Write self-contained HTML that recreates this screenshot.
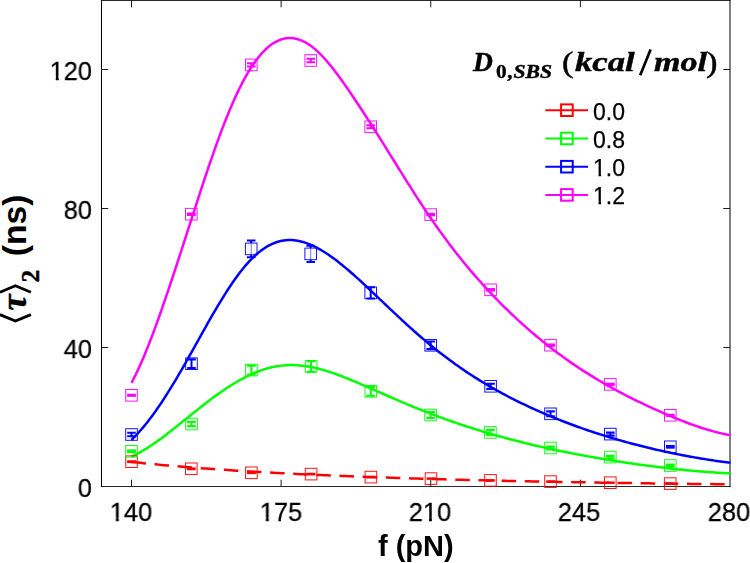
<!DOCTYPE html>
<html><head><meta charset="utf-8"><title>chart</title>
<style>
html,body{margin:0;padding:0;background:#fff;}
body{width:750px;height:563px;position:relative;overflow:hidden;font-family:"Liberation Sans",sans-serif;color:#000;}
.t{position:absolute;white-space:nowrap;line-height:1;will-change:transform;}
.o{display:inline-block;clip-path:polygon(0 0,100% 0,100% 70%,63% 70%,63% 100%,43% 100%,43% 70%,0 70%);}
</style></head><body>
<svg width="750" height="563" viewBox="0 0 750 563" style="position:absolute;left:0;top:0">
<rect x="0" y="0" width="750" height="563" fill="#ffffff"/>
<g stroke="#1a1a1a" stroke-width="1" fill="none">
<path d="M101 0.5 H730.5 M101 486.5 H730.5" stroke="#2a2a2a"/>
<path d="M101.5 0 V487" stroke="#000"/>
<path d="M730 0 V487" stroke="#000"/>
<path d="M131.50 486.5 v-6.8 M131.50 0.5 v6.8"/>
<path d="M281.12 486.5 v-6.8 M281.12 0.5 v6.8"/>
<path d="M430.75 486.5 v-6.8 M430.75 0.5 v6.8"/>
<path d="M580.38 486.5 v-6.8 M580.38 0.5 v6.8"/>
<path d="M101.5 347.50 h6.7 M730 347.50 h-6.7"/>
<path d="M101.5 208.50 h6.7 M730 208.50 h-6.7"/>
<path d="M101.5 69.50 h6.7 M730 69.50 h-6.7"/>
</g>
<defs><clipPath id="cp"><rect x="101" y="0" width="630" height="487"/></clipPath></defs>
<g fill="none" stroke-width="2.5" stroke-linejoin="round" clip-path="url(#cp)">
<path stroke="#ff0000" stroke-dasharray="14.5 8.67" d="M131.50 461.89 L134.51 462.22 L137.52 462.53 L140.53 462.85 L143.54 463.15 L146.55 463.46 L149.56 463.76 L152.57 464.05 L155.58 464.34 L158.59 464.62 L161.60 464.90 L164.61 465.17 L167.62 465.45 L170.63 465.71 L173.64 465.97 L176.65 466.23 L179.66 466.49 L182.67 466.74 L185.68 466.98 L188.69 467.23 L191.70 467.47 L194.71 467.70 L197.72 467.93 L200.73 468.16 L203.74 468.39 L206.75 468.61 L209.76 468.83 L212.77 469.04 L215.78 469.25 L218.79 469.46 L221.80 469.67 L224.81 469.87 L227.82 470.07 L230.83 470.27 L233.84 470.46 L236.85 470.66 L239.86 470.85 L242.87 471.03 L245.88 471.22 L248.89 471.40 L251.90 471.58 L254.91 471.75 L257.92 471.93 L260.93 472.10 L263.94 472.27 L266.95 472.43 L269.96 472.60 L272.97 472.76 L275.98 472.92 L278.99 473.08 L282.00 473.23 L285.01 473.39 L288.02 473.54 L291.03 473.69 L294.04 473.84 L297.05 473.98 L300.06 474.13 L303.07 474.27 L306.08 474.41 L309.09 474.55 L312.10 474.69 L315.11 474.82 L318.12 474.96 L321.13 475.09 L324.14 475.22 L327.15 475.35 L330.16 475.47 L333.17 475.60 L336.18 475.72 L339.19 475.84 L342.20 475.97 L345.21 476.09 L348.22 476.20 L351.23 476.32 L354.24 476.43 L357.25 476.55 L360.26 476.66 L363.27 476.77 L366.28 476.88 L369.29 476.99 L372.30 477.10 L375.31 477.20 L378.32 477.31 L381.33 477.41 L384.34 477.51 L387.35 477.62 L390.36 477.72 L393.37 477.81 L396.38 477.91 L399.39 478.01 L402.40 478.10 L405.41 478.20 L408.42 478.29 L411.43 478.39 L414.44 478.48 L417.45 478.57 L420.46 478.66 L423.47 478.75 L426.48 478.83 L429.49 478.92 L432.51 479.00 L435.52 479.09 L438.53 479.17 L441.54 479.26 L444.55 479.34 L447.56 479.42 L450.57 479.50 L453.58 479.58 L456.59 479.66 L459.60 479.74 L462.61 479.81 L465.62 479.89 L468.63 479.96 L471.64 480.04 L474.65 480.11 L477.66 480.19 L480.67 480.26 L483.68 480.33 L486.69 480.40 L489.70 480.47 L492.71 480.54 L495.72 480.61 L498.73 480.68 L501.74 480.74 L504.75 480.81 L507.76 480.88 L510.77 480.94 L513.78 481.01 L516.79 481.07 L519.80 481.13 L522.81 481.20 L525.82 481.26 L528.83 481.32 L531.84 481.38 L534.85 481.44 L537.86 481.50 L540.87 481.56 L543.88 481.62 L546.89 481.68 L549.90 481.73 L552.91 481.79 L555.92 481.85 L558.93 481.90 L561.94 481.96 L564.95 482.01 L567.96 482.07 L570.97 482.12 L573.98 482.17 L576.99 482.23 L580.00 482.28 L583.01 482.33 L586.02 482.38 L589.03 482.43 L592.04 482.48 L595.05 482.53 L598.06 482.58 L601.07 482.63 L604.08 482.68 L607.09 482.72 L610.10 482.77 L613.11 482.82 L616.12 482.86 L619.13 482.91 L622.14 482.95 L625.15 483.00 L628.16 483.04 L631.17 483.09 L634.18 483.13 L637.19 483.17 L640.20 483.22 L643.21 483.26 L646.22 483.30 L649.23 483.34 L652.24 483.38 L655.25 483.42 L658.26 483.46 L661.27 483.50 L664.28 483.54 L667.29 483.58 L670.30 483.62 L673.31 483.66 L676.32 483.70 L679.33 483.74 L682.34 483.77 L685.35 483.81 L688.36 483.85 L691.37 483.88 L694.38 483.92 L697.39 483.95 L700.40 483.99 L703.41 484.02 L706.42 484.06 L709.43 484.09 L712.44 484.12 L715.45 484.16 L718.46 484.19 L721.47 484.22 L724.48 484.26 L727.49 484.29 L730.50 484.32"/>
<path stroke="#00ff00" d="M131.50 456.65 L133.50 455.70 L135.51 454.71 L137.51 453.67 L139.51 452.59 L141.52 451.46 L143.52 450.29 L145.52 449.08 L147.53 447.83 L149.53 446.55 L151.53 445.23 L153.54 443.87 L155.54 442.48 L157.54 441.07 L159.55 439.62 L161.55 438.15 L163.55 436.65 L165.56 435.13 L167.56 433.59 L169.56 432.03 L171.57 430.46 L173.57 428.88 L175.57 427.28 L177.58 425.67 L179.58 424.07 L181.58 422.45 L183.59 420.84 L185.59 419.23 L187.59 417.62 L189.60 416.00 L191.60 414.40 L193.60 412.79 L195.61 411.20 L197.61 409.61 L199.61 408.02 L201.62 406.45 L203.62 404.89 L205.62 403.34 L207.63 401.80 L209.63 400.28 L211.63 398.78 L213.64 397.29 L215.64 395.83 L217.64 394.38 L219.65 392.96 L221.65 391.56 L223.65 390.18 L225.66 388.83 L227.66 387.51 L229.66 386.22 L231.67 384.95 L233.67 383.72 L235.67 382.51 L237.68 381.34 L239.68 380.20 L241.68 379.10 L243.69 378.03 L245.69 376.99 L247.69 376.00 L249.70 375.04 L251.70 374.12 L253.70 373.24 L255.71 372.41 L257.71 371.61 L259.71 370.86 L261.72 370.16 L263.72 369.50 L265.72 368.89 L267.73 368.32 L269.73 367.79 L271.73 367.32 L273.74 366.89 L275.74 366.50 L277.74 366.17 L279.75 365.88 L281.75 365.63 L283.75 365.43 L285.76 365.28 L287.76 365.17 L289.76 365.11 L291.77 365.09 L293.77 365.11 L295.77 365.18 L297.78 365.29 L299.78 365.44 L301.78 365.64 L303.79 365.87 L305.79 366.15 L307.79 366.46 L309.80 366.81 L311.80 367.19 L313.80 367.61 L315.81 368.06 L317.81 368.54 L319.81 369.05 L321.82 369.59 L323.82 370.16 L325.82 370.75 L327.83 371.37 L329.83 372.01 L331.83 372.68 L333.84 373.36 L335.84 374.07 L337.84 374.79 L339.85 375.53 L341.85 376.29 L343.85 377.07 L345.86 377.85 L347.86 378.66 L349.86 379.47 L351.87 380.29 L353.87 381.13 L355.87 381.97 L357.88 382.82 L359.88 383.68 L361.88 384.54 L363.89 385.41 L365.89 386.29 L367.89 387.17 L369.90 388.05 L371.90 388.93 L373.90 389.82 L375.91 390.70 L377.91 391.59 L379.91 392.47 L381.92 393.36 L383.92 394.24 L385.92 395.12 L387.93 396.00 L389.93 396.87 L391.93 397.74 L393.94 398.61 L395.94 399.47 L397.94 400.33 L399.95 401.19 L401.95 402.04 L403.95 402.88 L405.96 403.72 L407.96 404.56 L409.96 405.39 L411.97 406.22 L413.97 407.04 L415.97 407.85 L417.98 408.66 L419.98 409.46 L421.98 410.26 L423.99 411.05 L425.99 411.84 L427.99 412.62 L430.00 413.39 L432.00 414.15 L434.01 414.91 L436.01 415.67 L438.01 416.41 L440.02 417.16 L442.02 417.89 L444.02 418.62 L446.03 419.34 L448.03 420.06 L450.03 420.76 L452.04 421.47 L454.04 422.16 L456.04 422.85 L458.05 423.54 L460.05 424.22 L462.05 424.89 L464.06 425.56 L466.06 426.22 L468.06 426.87 L470.07 427.52 L472.07 428.16 L474.07 428.80 L476.08 429.43 L478.08 430.05 L480.08 430.67 L482.09 431.28 L484.09 431.89 L486.09 432.49 L488.10 433.08 L490.10 433.67 L492.10 434.25 L494.11 434.83 L496.11 435.40 L498.11 435.97 L500.12 436.53 L502.12 437.08 L504.12 437.63 L506.13 438.18 L508.13 438.71 L510.13 439.25 L512.14 439.77 L514.14 440.30 L516.14 440.81 L518.15 441.33 L520.15 441.83 L522.15 442.33 L524.16 442.83 L526.16 443.32 L528.16 443.81 L530.17 444.29 L532.17 444.77 L534.17 445.24 L536.18 445.71 L538.18 446.17 L540.18 446.63 L542.19 447.08 L544.19 447.53 L546.19 447.97 L548.20 448.41 L550.20 448.85 L552.20 449.28 L554.21 449.71 L556.21 450.13 L558.21 450.55 L560.22 450.96 L562.22 451.38 L564.22 451.78 L566.23 452.19 L568.23 452.58 L570.23 452.98 L572.24 453.37 L574.24 453.76 L576.24 454.14 L578.25 454.52 L580.25 454.90 L582.25 455.27 L584.26 455.64 L586.26 456.01 L588.26 456.37 L590.27 456.73 L592.27 457.09 L594.27 457.45 L596.28 457.80 L598.28 458.14 L600.28 458.49 L602.29 458.83 L604.29 459.17 L606.29 459.50 L608.30 459.84 L610.30 460.17 L612.30 460.49 L614.31 460.81 L616.31 461.13 L618.31 461.45 L620.32 461.77 L622.32 462.08 L624.32 462.38 L626.33 462.69 L628.33 462.99 L630.33 463.29 L632.34 463.58 L634.34 463.87 L636.34 464.16 L638.35 464.44 L640.35 464.72 L642.35 465.00 L644.36 465.28 L646.36 465.55 L648.36 465.81 L650.37 466.08 L652.37 466.34 L654.37 466.59 L656.38 466.85 L658.38 467.10 L660.38 467.34 L662.39 467.59 L664.39 467.82 L666.39 468.06 L668.40 468.29 L670.40 468.52 L672.40 468.74 L674.41 468.96 L676.41 469.18 L678.41 469.39 L680.42 469.60 L682.42 469.80 L684.42 470.00 L686.43 470.20 L688.43 470.39 L690.43 470.58 L692.44 470.76 L694.44 470.94 L696.44 471.12 L698.45 471.29 L700.45 471.46 L702.45 471.62 L704.46 471.78 L706.46 471.93 L708.46 472.08 L710.47 472.23 L712.47 472.37 L714.47 472.50 L716.48 472.64 L718.48 472.76 L720.48 472.89 L722.49 473.01 L724.49 473.12 L726.49 473.23 L728.50 473.33 L730.50 473.43"/>
<path stroke="#0000ff" d="M131.50 440.00 L133.50 437.99 L135.51 435.92 L137.51 433.77 L139.51 431.54 L141.52 429.25 L143.52 426.88 L145.52 424.44 L147.53 421.92 L149.53 419.34 L151.53 416.69 L153.54 413.97 L155.54 411.18 L157.54 408.33 L159.55 405.41 L161.55 402.43 L163.55 399.39 L165.56 396.29 L167.56 393.13 L169.56 389.93 L171.57 386.67 L173.57 383.37 L175.57 380.02 L177.58 376.63 L179.58 373.21 L181.58 369.76 L183.59 366.27 L185.59 362.76 L187.59 359.23 L189.60 355.68 L191.60 352.11 L193.60 348.53 L195.61 344.94 L197.61 341.35 L199.61 337.76 L201.62 334.17 L203.62 330.59 L205.62 327.03 L207.63 323.48 L209.63 319.95 L211.63 316.45 L213.64 312.99 L215.64 309.55 L217.64 306.16 L219.65 302.82 L221.65 299.53 L223.65 296.29 L225.66 293.11 L227.66 289.99 L229.66 286.94 L231.67 283.96 L233.67 281.05 L235.67 278.22 L237.68 275.48 L239.68 272.82 L241.68 270.25 L243.69 267.78 L245.69 265.40 L247.69 263.12 L249.70 260.95 L251.70 258.87 L253.70 256.90 L255.71 255.04 L257.71 253.29 L259.71 251.65 L261.72 250.11 L263.72 248.69 L265.72 247.38 L267.73 246.18 L269.73 245.09 L271.73 244.11 L273.74 243.23 L275.74 242.47 L277.74 241.81 L279.75 241.26 L281.75 240.82 L283.75 240.48 L285.76 240.23 L287.76 240.09 L289.76 240.04 L291.77 240.09 L293.77 240.23 L295.77 240.46 L297.78 240.78 L299.78 241.18 L301.78 241.67 L303.79 242.24 L305.79 242.88 L307.79 243.60 L309.80 244.39 L311.80 245.25 L313.80 246.18 L315.81 247.17 L317.81 248.22 L319.81 249.33 L321.82 250.50 L323.82 251.73 L325.82 253.00 L327.83 254.33 L329.83 255.70 L331.83 257.11 L333.84 258.57 L335.84 260.07 L337.84 261.60 L339.85 263.18 L341.85 264.78 L343.85 266.42 L345.86 268.09 L347.86 269.78 L349.86 271.51 L351.87 273.25 L353.87 275.02 L355.87 276.81 L357.88 278.62 L359.88 280.45 L361.88 282.29 L363.89 284.15 L365.89 286.01 L367.89 287.89 L369.90 289.77 L371.90 291.67 L373.90 293.57 L375.91 295.47 L377.91 297.37 L379.91 299.28 L381.92 301.19 L383.92 303.10 L385.92 305.00 L387.93 306.90 L389.93 308.80 L391.93 310.70 L393.94 312.58 L395.94 314.46 L397.94 316.34 L399.95 318.20 L401.95 320.06 L403.95 321.90 L405.96 323.74 L407.96 325.56 L409.96 327.37 L411.97 329.17 L413.97 330.96 L415.97 332.73 L417.98 334.49 L419.98 336.23 L421.98 337.96 L423.99 339.67 L425.99 341.36 L427.99 343.04 L430.00 344.70 L432.00 346.34 L434.01 347.97 L436.01 349.57 L438.01 351.16 L440.02 352.74 L442.02 354.29 L444.02 355.83 L446.03 357.34 L448.03 358.85 L450.03 360.33 L452.04 361.80 L454.04 363.25 L456.04 364.68 L458.05 366.10 L460.05 367.49 L462.05 368.88 L464.06 370.24 L466.06 371.59 L468.06 372.92 L470.07 374.24 L472.07 375.54 L474.07 376.83 L476.08 378.10 L478.08 379.35 L480.08 380.59 L482.09 381.82 L484.09 383.03 L486.09 384.23 L488.10 385.41 L490.10 386.57 L492.10 387.73 L494.11 388.87 L496.11 390.00 L498.11 391.11 L500.12 392.21 L502.12 393.30 L504.12 394.37 L506.13 395.44 L508.13 396.49 L510.13 397.53 L512.14 398.56 L514.14 399.57 L516.14 400.58 L518.15 401.57 L520.15 402.56 L522.15 403.53 L524.16 404.49 L526.16 405.45 L528.16 406.39 L530.17 407.33 L532.17 408.25 L534.17 409.16 L536.18 410.07 L538.18 410.96 L540.18 411.85 L542.19 412.72 L544.19 413.59 L546.19 414.44 L548.20 415.29 L550.20 416.13 L552.20 416.96 L554.21 417.78 L556.21 418.59 L558.21 419.39 L560.22 420.19 L562.22 420.98 L564.22 421.75 L566.23 422.52 L568.23 423.28 L570.23 424.03 L572.24 424.78 L574.24 425.52 L576.24 426.24 L578.25 426.96 L580.25 427.68 L582.25 428.38 L584.26 429.08 L586.26 429.77 L588.26 430.45 L590.27 431.13 L592.27 431.79 L594.27 432.45 L596.28 433.11 L598.28 433.75 L600.28 434.39 L602.29 435.03 L604.29 435.65 L606.29 436.27 L608.30 436.88 L610.30 437.48 L612.30 438.08 L614.31 438.67 L616.31 439.26 L618.31 439.84 L620.32 440.41 L622.32 440.98 L624.32 441.54 L626.33 442.09 L628.33 442.64 L630.33 443.18 L632.34 443.71 L634.34 444.24 L636.34 444.76 L638.35 445.28 L640.35 445.79 L642.35 446.30 L644.36 446.79 L646.36 447.29 L648.36 447.77 L650.37 448.25 L652.37 448.73 L654.37 449.20 L656.38 449.66 L658.38 450.12 L660.38 450.57 L662.39 451.01 L664.39 451.45 L666.39 451.89 L668.40 452.32 L670.40 452.74 L672.40 453.16 L674.41 453.57 L676.41 453.97 L678.41 454.37 L680.42 454.77 L682.42 455.16 L684.42 455.54 L686.43 455.92 L688.43 456.29 L690.43 456.66 L692.44 457.02 L694.44 457.37 L696.44 457.72 L698.45 458.07 L700.45 458.40 L702.45 458.74 L704.46 459.07 L706.46 459.39 L708.46 459.70 L710.47 460.01 L712.47 460.32 L714.47 460.62 L716.48 460.91 L718.48 461.20 L720.48 461.49 L722.49 461.76 L724.49 462.04 L726.49 462.30 L728.50 462.56 L730.50 462.82"/>
<path stroke="#ff00ff" d="M131.50 382.80 L133.50 378.99 L135.51 375.01 L137.51 370.85 L139.51 366.52 L141.52 362.03 L143.52 357.39 L145.52 352.59 L147.53 347.65 L149.53 342.58 L151.53 337.38 L153.54 332.07 L155.54 326.64 L157.54 321.11 L159.55 315.50 L161.55 309.79 L163.55 304.02 L165.56 298.18 L167.56 292.29 L169.56 286.34 L171.57 280.35 L173.57 274.31 L175.57 268.24 L177.58 262.12 L179.58 255.98 L181.58 249.81 L183.59 243.62 L185.59 237.41 L187.59 231.19 L189.60 224.97 L191.60 218.75 L193.60 212.54 L195.61 206.35 L197.61 200.17 L199.61 194.02 L201.62 187.91 L203.62 181.84 L205.62 175.82 L207.63 169.86 L209.63 163.96 L211.63 158.13 L213.64 152.38 L215.64 146.72 L217.64 141.16 L219.65 135.69 L221.65 130.34 L223.65 125.10 L225.66 119.98 L227.66 114.98 L229.66 110.12 L231.67 105.40 L233.67 100.82 L235.67 96.38 L237.68 92.10 L239.68 87.98 L241.68 84.01 L243.69 80.20 L245.69 76.56 L247.69 73.08 L249.70 69.76 L251.70 66.62 L253.70 63.64 L255.71 60.83 L257.71 58.18 L259.71 55.71 L261.72 53.40 L263.72 51.25 L265.72 49.27 L267.73 47.46 L269.73 45.80 L271.73 44.31 L273.74 42.98 L275.74 41.81 L277.74 40.80 L279.75 39.95 L281.75 39.26 L283.75 38.72 L285.76 38.34 L287.76 38.12 L289.76 38.04 L291.77 38.11 L293.77 38.32 L295.77 38.68 L297.78 39.19 L299.78 39.83 L301.78 40.62 L303.79 41.54 L305.79 42.59 L307.79 43.78 L309.80 45.10 L311.80 46.55 L313.80 48.12 L315.81 49.82 L317.81 51.63 L319.81 53.57 L321.82 55.61 L323.82 57.75 L325.82 59.99 L327.83 62.31 L329.83 64.72 L331.83 67.20 L333.84 69.76 L335.84 72.38 L337.84 75.05 L339.85 77.78 L341.85 80.56 L343.85 83.38 L345.86 86.23 L347.86 89.12 L349.86 92.03 L351.87 94.97 L353.87 97.94 L355.87 100.94 L357.88 103.95 L359.88 106.99 L361.88 110.05 L363.89 113.12 L365.89 116.21 L367.89 119.32 L369.90 122.44 L371.90 125.58 L373.90 128.73 L375.91 131.89 L377.91 135.07 L379.91 138.25 L381.92 141.45 L383.92 144.65 L385.92 147.86 L387.93 151.08 L389.93 154.31 L391.93 157.54 L393.94 160.77 L395.94 164.00 L397.94 167.23 L399.95 170.45 L401.95 173.66 L403.95 176.87 L405.96 180.07 L407.96 183.25 L409.96 186.42 L411.97 189.58 L413.97 192.72 L415.97 195.84 L417.98 198.94 L419.98 202.02 L421.98 205.08 L423.99 208.11 L425.99 211.11 L427.99 214.09 L430.00 217.04 L432.00 219.97 L434.01 222.86 L436.01 225.72 L438.01 228.55 L440.02 231.36 L442.02 234.13 L444.02 236.88 L446.03 239.59 L448.03 242.28 L450.03 244.94 L452.04 247.57 L454.04 250.17 L456.04 252.74 L458.05 255.28 L460.05 257.80 L462.05 260.29 L464.06 262.75 L466.06 265.18 L468.06 267.59 L470.07 269.97 L472.07 272.33 L474.07 274.66 L476.08 276.96 L478.08 279.24 L480.08 281.50 L482.09 283.73 L484.09 285.94 L486.09 288.12 L488.10 290.28 L490.10 292.42 L492.10 294.53 L494.11 296.62 L496.11 298.70 L498.11 300.75 L500.12 302.78 L502.12 304.79 L504.12 306.78 L506.13 308.75 L508.13 310.70 L510.13 312.63 L512.14 314.54 L514.14 316.43 L516.14 318.30 L518.15 320.16 L520.15 321.99 L522.15 323.81 L524.16 325.60 L526.16 327.38 L528.16 329.14 L530.17 330.88 L532.17 332.60 L534.17 334.30 L536.18 335.99 L538.18 337.66 L540.18 339.31 L542.19 340.94 L544.19 342.56 L546.19 344.15 L548.20 345.73 L550.20 347.30 L552.20 348.84 L554.21 350.37 L556.21 351.88 L558.21 353.38 L560.22 354.86 L562.22 356.32 L564.22 357.77 L566.23 359.20 L568.23 360.62 L570.23 362.01 L572.24 363.40 L574.24 364.77 L576.24 366.12 L578.25 367.46 L580.25 368.78 L582.25 370.09 L584.26 371.38 L586.26 372.66 L588.26 373.92 L590.27 375.17 L592.27 376.41 L594.27 377.63 L596.28 378.84 L598.28 380.04 L600.28 381.22 L602.29 382.39 L604.29 383.55 L606.29 384.69 L608.30 385.83 L610.30 386.95 L612.30 388.06 L614.31 389.16 L616.31 390.25 L618.31 391.32 L620.32 392.39 L622.32 393.44 L624.32 394.49 L626.33 395.52 L628.33 396.54 L630.33 397.56 L632.34 398.56 L634.34 399.56 L636.34 400.54 L638.35 401.52 L640.35 402.49 L642.35 403.45 L644.36 404.40 L646.36 405.34 L648.36 406.28 L650.37 407.20 L652.37 408.12 L654.37 409.03 L656.38 409.94 L658.38 410.83 L660.38 411.72 L662.39 412.61 L664.39 413.48 L666.39 414.35 L668.40 415.21 L670.40 416.06 L672.40 416.90 L674.41 417.74 L676.41 418.56 L678.41 419.37 L680.42 420.17 L682.42 420.96 L684.42 421.74 L686.43 422.50 L688.43 423.25 L690.43 423.99 L692.44 424.72 L694.44 425.43 L696.44 426.12 L698.45 426.80 L700.45 427.47 L702.45 428.12 L704.46 428.75 L706.46 429.36 L708.46 429.96 L710.47 430.54 L712.47 431.10 L714.47 431.64 L716.48 432.16 L718.48 432.67 L720.48 433.15 L722.49 433.61 L724.49 434.05 L726.49 434.47 L728.50 434.86 L730.50 435.24"/>
</g>
<g stroke="#ff0000" fill="none">
<rect x="125.70" y="455.90" width="11.6" height="11.6" stroke-width="1" stroke-opacity="0.92"/>
<path stroke-width="2.90" d="M127.10 461.70 h8.8"/>
<rect x="185.50" y="463.00" width="11.6" height="11.6" stroke-width="1" stroke-opacity="0.92"/>
<path stroke-width="2.90" d="M186.90 468.80 h8.8"/>
<rect x="245.60" y="467.00" width="11.6" height="11.6" stroke-width="1" stroke-opacity="0.92"/>
<path stroke-width="2.70" d="M247.00 472.80 h8.8"/>
<rect x="305.30" y="468.30" width="11.6" height="11.6" stroke-width="1" stroke-opacity="0.92"/>
<path stroke-width="2.70" d="M306.70 474.10 h8.8"/>
<rect x="365.10" y="471.30" width="11.6" height="11.6" stroke-width="1" stroke-opacity="0.92"/>
<path stroke-width="2.50" d="M366.50 477.10 h8.8"/>
<rect x="425.20" y="472.80" width="11.6" height="11.6" stroke-width="1" stroke-opacity="0.92"/>
<path stroke-width="2.50" d="M426.60 478.60 h8.8"/>
<rect x="484.70" y="474.60" width="11.6" height="11.6" stroke-width="1" stroke-opacity="0.92"/>
<path stroke-width="2.50" d="M486.10 480.40 h8.8"/>
<rect x="544.70" y="475.80" width="11.6" height="11.6" stroke-width="1" stroke-opacity="0.92"/>
<path stroke-width="2.50" d="M546.10 481.60 h8.8"/>
<rect x="604.50" y="476.90" width="11.6" height="11.6" stroke-width="1" stroke-opacity="0.92"/>
<path stroke-width="2.50" d="M605.90 482.70 h8.8"/>
<rect x="664.40" y="477.80" width="11.6" height="11.6" stroke-width="1" stroke-opacity="0.92"/>
<path stroke-width="2.50" d="M665.80 483.60 h8.8"/>
</g>
<g stroke="#00ff00" fill="none">
<rect x="125.70" y="445.50" width="11.6" height="11.6" stroke-width="1" stroke-opacity="0.92"/>
<path stroke-width="3.90" d="M127.10 451.30 h8.8"/>
<rect x="185.70" y="418.20" width="11.6" height="11.6" stroke-width="1" stroke-opacity="0.92"/>
<path stroke-width="2" d="M191.50 421.90 V426.10"/>
<path stroke-width="2.1" d="M187.20 421.90 h8.6 M187.20 426.10 h8.6"/>
<rect x="245.60" y="364.30" width="11.6" height="11.6" stroke-width="1" stroke-opacity="0.92"/>
<path stroke-width="2" d="M251.40 365.70 V374.50"/>
<path stroke-width="2.1" d="M247.10 365.70 h8.6 M247.10 374.50 h8.6"/>
<rect x="305.30" y="360.60" width="11.6" height="11.6" stroke-width="1" stroke-opacity="0.92"/>
<path stroke-width="2" d="M311.10 361.10 V371.70"/>
<path stroke-width="2.1" d="M306.80 361.10 h8.6 M306.80 371.70 h8.6"/>
<rect x="365.00" y="385.50" width="11.6" height="11.6" stroke-width="1" stroke-opacity="0.92"/>
<path stroke-width="2" d="M370.80 386.90 V395.70"/>
<path stroke-width="2.1" d="M366.50 386.90 h8.6 M366.50 395.70 h8.6"/>
<rect x="424.80" y="409.20" width="11.6" height="11.6" stroke-width="1" stroke-opacity="0.92"/>
<path stroke-width="2" d="M430.60 412.00 V418.00"/>
<path stroke-width="2.1" d="M426.30 412.00 h8.6 M426.30 418.00 h8.6"/>
<rect x="484.60" y="426.60" width="11.6" height="11.6" stroke-width="1" stroke-opacity="0.92"/>
<path stroke-width="2" d="M490.40 429.90 V434.90"/>
<path stroke-width="2.1" d="M486.10 429.90 h8.6 M486.10 434.90 h8.6"/>
<rect x="544.70" y="442.20" width="11.6" height="11.6" stroke-width="1" stroke-opacity="0.92"/>
<path stroke-width="2" d="M550.50 446.60 V449.40"/>
<path stroke-width="2.1" d="M546.20 446.60 h8.6 M546.20 449.40 h8.6"/>
<rect x="604.50" y="451.30" width="11.6" height="11.6" stroke-width="1" stroke-opacity="0.92"/>
<path stroke-width="2" d="M610.30 455.90 V458.30"/>
<path stroke-width="2.1" d="M606.00 455.90 h8.6 M606.00 458.30 h8.6"/>
<rect x="664.50" y="459.70" width="11.6" height="11.6" stroke-width="1" stroke-opacity="0.92"/>
<path stroke-width="3.90" d="M665.90 465.50 h8.8"/>
</g>
<g stroke="#0000ff" fill="none">
<rect x="125.70" y="428.70" width="11.6" height="11.6" stroke-width="1" stroke-opacity="0.92"/>
<path stroke-width="2" d="M131.50 432.70 V436.30"/>
<path stroke-width="2.1" d="M127.20 432.70 h8.6 M127.20 436.30 h8.6"/>
<rect x="185.70" y="357.90" width="11.6" height="11.6" stroke-width="1" stroke-opacity="0.92"/>
<path stroke-width="2" d="M191.50 359.40 V368.00"/>
<path stroke-width="2.1" d="M187.20 359.40 h8.6 M187.20 368.00 h8.6"/>
<rect x="245.40" y="243.10" width="11.6" height="11.6" stroke-width="1" stroke-opacity="0.92"/>
<path stroke-width="2" d="M251.20 240.50 V243.10 M251.20 254.70 V257.30"/>
<path stroke-width="1" stroke-opacity="0.55" d="M251.20 243.10 V254.70"/>
<path stroke-width="2.1" d="M246.90 240.50 h8.6 M246.90 257.30 h8.6"/>
<rect x="304.90" y="248.10" width="11.6" height="11.6" stroke-width="1" stroke-opacity="0.92"/>
<path stroke-width="2" d="M310.70 245.80 V248.10 M310.70 259.70 V262.00"/>
<path stroke-width="1" stroke-opacity="0.55" d="M310.70 248.10 V259.70"/>
<path stroke-width="2.1" d="M306.40 245.80 h8.6 M306.40 262.00 h8.6"/>
<rect x="364.90" y="287.10" width="11.6" height="11.6" stroke-width="1" stroke-opacity="0.92"/>
<path stroke-width="2" d="M370.70 287.30 V298.50"/>
<path stroke-width="2.1" d="M366.40 287.30 h8.6 M366.40 298.50 h8.6"/>
<rect x="424.90" y="339.50" width="11.6" height="11.6" stroke-width="1" stroke-opacity="0.92"/>
<path stroke-width="2" d="M430.70 341.50 V349.10"/>
<path stroke-width="2.1" d="M426.40 341.50 h8.6 M426.40 349.10 h8.6"/>
<rect x="484.80" y="380.50" width="11.6" height="11.6" stroke-width="1" stroke-opacity="0.92"/>
<path stroke-width="2" d="M490.60 383.70 V388.90"/>
<path stroke-width="2.1" d="M486.30 383.70 h8.6 M486.30 388.90 h8.6"/>
<rect x="544.70" y="408.00" width="11.6" height="11.6" stroke-width="1" stroke-opacity="0.92"/>
<path stroke-width="2" d="M550.50 411.40 V416.20"/>
<path stroke-width="2.1" d="M546.20 411.40 h8.6 M546.20 416.20 h8.6"/>
<rect x="604.50" y="428.30" width="11.6" height="11.6" stroke-width="1" stroke-opacity="0.92"/>
<path stroke-width="2" d="M610.30 432.60 V435.60"/>
<path stroke-width="2.1" d="M606.00 432.60 h8.6 M606.00 435.60 h8.6"/>
<rect x="664.50" y="441.00" width="11.6" height="11.6" stroke-width="1" stroke-opacity="0.92"/>
<path stroke-width="3.70" d="M665.90 446.80 h8.8"/>
</g>
<g stroke="#ff00ff" fill="none">
<rect x="125.70" y="389.50" width="11.6" height="11.6" stroke-width="1" stroke-opacity="0.92"/>
<path stroke-width="3.10" d="M127.10 395.30 h8.8"/>
<rect x="185.50" y="208.40" width="11.6" height="11.6" stroke-width="1" stroke-opacity="0.92"/>
<path stroke-width="3.50" d="M186.90 214.20 h8.8"/>
<rect x="245.50" y="59.10" width="11.6" height="11.6" stroke-width="1" stroke-opacity="0.92"/>
<path stroke-width="2" d="M251.30 63.30 V66.50"/>
<path stroke-width="2.1" d="M247.00 63.30 h8.6 M247.00 66.50 h8.6"/>
<rect x="305.00" y="54.70" width="11.6" height="11.6" stroke-width="1" stroke-opacity="0.92"/>
<path stroke-width="2" d="M310.80 58.80 V62.20"/>
<path stroke-width="2.1" d="M306.50 58.80 h8.6 M306.50 62.20 h8.6"/>
<rect x="364.90" y="121.00" width="11.6" height="11.6" stroke-width="1" stroke-opacity="0.92"/>
<path stroke-width="2" d="M370.70 125.30 V128.30"/>
<path stroke-width="2.1" d="M366.40 125.30 h8.6 M366.40 128.30 h8.6"/>
<rect x="424.90" y="208.80" width="11.6" height="11.6" stroke-width="1" stroke-opacity="0.92"/>
<path stroke-width="3.50" d="M426.30 214.60 h8.8"/>
<rect x="484.80" y="284.00" width="11.6" height="11.6" stroke-width="1" stroke-opacity="0.92"/>
<path stroke-width="3.50" d="M486.20 289.80 h8.8"/>
<rect x="544.70" y="339.40" width="11.6" height="11.6" stroke-width="1" stroke-opacity="0.92"/>
<path stroke-width="3.50" d="M546.10 345.20 h8.8"/>
<rect x="604.50" y="378.60" width="11.6" height="11.6" stroke-width="1" stroke-opacity="0.92"/>
<path stroke-width="3.50" d="M605.90 384.40 h8.8"/>
<rect x="664.50" y="409.50" width="11.6" height="11.6" stroke-width="1" stroke-opacity="0.92"/>
<path stroke-width="3.10" d="M665.90 415.30 h8.8"/>
</g>
<path d="M545.3 110.20 H588" stroke="#ff0000" stroke-width="2" fill="none"/>
<rect x="561.1" y="104.40" width="11.6" height="11.6" fill="none" stroke="#ff0000" stroke-width="2"/>
<path d="M545.3 138.50 H588" stroke="#00ff00" stroke-width="2" fill="none"/>
<rect x="561.1" y="132.70" width="11.6" height="11.6" fill="none" stroke="#00ff00" stroke-width="2"/>
<path d="M545.3 166.70 H588" stroke="#0000ff" stroke-width="2" fill="none"/>
<rect x="561.1" y="160.90" width="11.6" height="11.6" fill="none" stroke="#0000ff" stroke-width="2"/>
<path d="M545.3 194.90 H588" stroke="#ff00ff" stroke-width="2" fill="none"/>
<rect x="561.1" y="189.10" width="11.6" height="11.6" fill="none" stroke="#ff00ff" stroke-width="2"/>
<path d="M640.2 75.2 L650.6 49.6" stroke="#000" stroke-width="2.7" fill="none"/>
<g transform="translate(26.3,323) rotate(-90)" fill="#000">
<path d="M8.4 -26.4 L1.9 -10.9 L8.4 4.6" fill="none" stroke="#000" stroke-width="2.8" stroke-linejoin="miter"/>
<path d="M30.8 -26.4 L37.3 -10.9 L30.8 4.6" fill="none" stroke="#000" stroke-width="2.8" stroke-linejoin="miter"/>
<text x="12.6" y="0" font-family="Liberation Serif, serif" font-weight="bold" font-style="italic" font-size="36" stroke="#000" stroke-width="0.5">&#964;</text>
<text x="40.5" y="12.8" font-family="Liberation Serif, serif" font-weight="bold" font-size="25.5" stroke="#000" stroke-width="0.4">2</text>
<text x="66.8" y="0" font-family="Liberation Sans, sans-serif" font-weight="bold" font-size="33.6">(ns)</text>
</g>
</svg>
<div class="t" id="xt140" style="left:131.2px;top:499.3px;font-size:26px;width:80px;margin-left:-40px;text-align:center;-webkit-text-stroke:0.3px #000;transform:scaleX(0.975);"><span class="o">1</span>40</div>
<div class="t" id="xt175" style="left:280.525px;top:499.3px;font-size:26px;width:80px;margin-left:-40px;text-align:center;-webkit-text-stroke:0.3px #000;transform:scaleX(0.975);"><span class="o">1</span>75</div>
<div class="t" id="xt210" style="left:429.65px;top:499.3px;font-size:26px;width:80px;margin-left:-40px;text-align:center;-webkit-text-stroke:0.3px #000;transform:scaleX(0.975);">2<span class="o">1</span>0</div>
<div class="t" id="xt245" style="left:579.475px;top:499.3px;font-size:26px;width:80px;margin-left:-40px;text-align:center;-webkit-text-stroke:0.3px #000;transform:scaleX(0.975);">245</div>
<div class="t" id="xt280" style="left:728.6px;top:499.3px;font-size:26px;width:80px;margin-left:-40px;text-align:center;-webkit-text-stroke:0.3px #000;transform:scaleX(0.975);">280</div>
<div class="t" id="yt0" style="left:11.7px;top:474.9px;font-size:26px;width:80px;text-align:right;-webkit-text-stroke:0.3px #000;transform:scaleX(0.975);transform-origin:100% 50%;">0</div>
<div class="t" id="yt40" style="left:11.7px;top:335.9px;font-size:26px;width:80px;text-align:right;-webkit-text-stroke:0.3px #000;transform:scaleX(0.975);transform-origin:100% 50%;">40</div>
<div class="t" id="yt80" style="left:11.7px;top:196.9px;font-size:26px;width:80px;text-align:right;-webkit-text-stroke:0.3px #000;transform:scaleX(0.975);transform-origin:100% 50%;">80</div>
<div class="t" id="yt120" style="left:11.7px;top:57.9px;font-size:26px;width:80px;text-align:right;-webkit-text-stroke:0.3px #000;transform:scaleX(0.975);transform-origin:100% 50%;"><span class="o">1</span>20</div>
<div class="t" id="xl" style="left:377.9px;top:531.7px;font-size:29px;font-weight:bold;">f (pN)</div>
<div class="t" id="lg0_0" style="left:592.7px;top:100.7px;font-size:23px;-webkit-text-stroke:0.25px #000;">0.0</div>
<div class="t" id="lg0_8" style="left:592.7px;top:129px;font-size:23px;-webkit-text-stroke:0.25px #000;">0.8</div>
<div class="t" id="lg1_0" style="left:592.7px;top:157.2px;font-size:23px;-webkit-text-stroke:0.25px #000;"><span class="o">1</span>.0</div>
<div class="t" id="lg1_2" style="left:592.7px;top:185.4px;font-size:23px;-webkit-text-stroke:0.25px #000;"><span class="o">1</span>.2</div>
<div class="t" id="ltD" style="left:473px;top:47.8975px;font-size:27.5px;font-family:'Liberation Serif',serif;font-weight:bold;font-style:italic;-webkit-text-stroke:0.45px #000;">D</div>
<div class="t" id="lts0" style="left:496.2px;top:61.971px;font-size:19px;transform:scale(1.12,1);transform-origin:0 100%;font-family:'Liberation Serif',serif;font-weight:bold;-webkit-text-stroke:0.3px #000;">0</div>
<div class="t" id="ltsub" style="left:508px;top:61.971px;font-size:19px;transform:scale(1.14,1);transform-origin:0 100%;font-family:'Liberation Serif',serif;font-weight:bold;font-style:italic;-webkit-text-stroke:0.45px #000;">,SBS</div>
<div class="t" id="ltp1" style="left:562.2px;top:47.17px;font-size:30px;transform:scale(1.15,1);transform-origin:0 100%;font-family:'Liberation Serif',serif;font-weight:normal;-webkit-text-stroke:0.5px #000;">(</div>
<div class="t" id="ltkcal" style="left:575.1px;top:47.6975px;font-size:27.5px;transform:scale(1.262,1);transform-origin:0 100%;font-family:'Liberation Serif',serif;font-weight:bold;font-style:italic;-webkit-text-stroke:0.45px #000;">kcal</div>
<div class="t" id="ltmol" style="left:653.5px;top:47.6975px;font-size:27.5px;transform:scale(1.237,1);transform-origin:0 100%;font-family:'Liberation Serif',serif;font-weight:bold;font-style:italic;-webkit-text-stroke:0.45px #000;">mol</div>
<div class="t" id="ltp2" style="left:706.4px;top:47.17px;font-size:30px;transform:scale(1.15,1);transform-origin:0 100%;font-family:'Liberation Serif',serif;font-weight:normal;-webkit-text-stroke:0.5px #000;">)</div>
</body></html>
